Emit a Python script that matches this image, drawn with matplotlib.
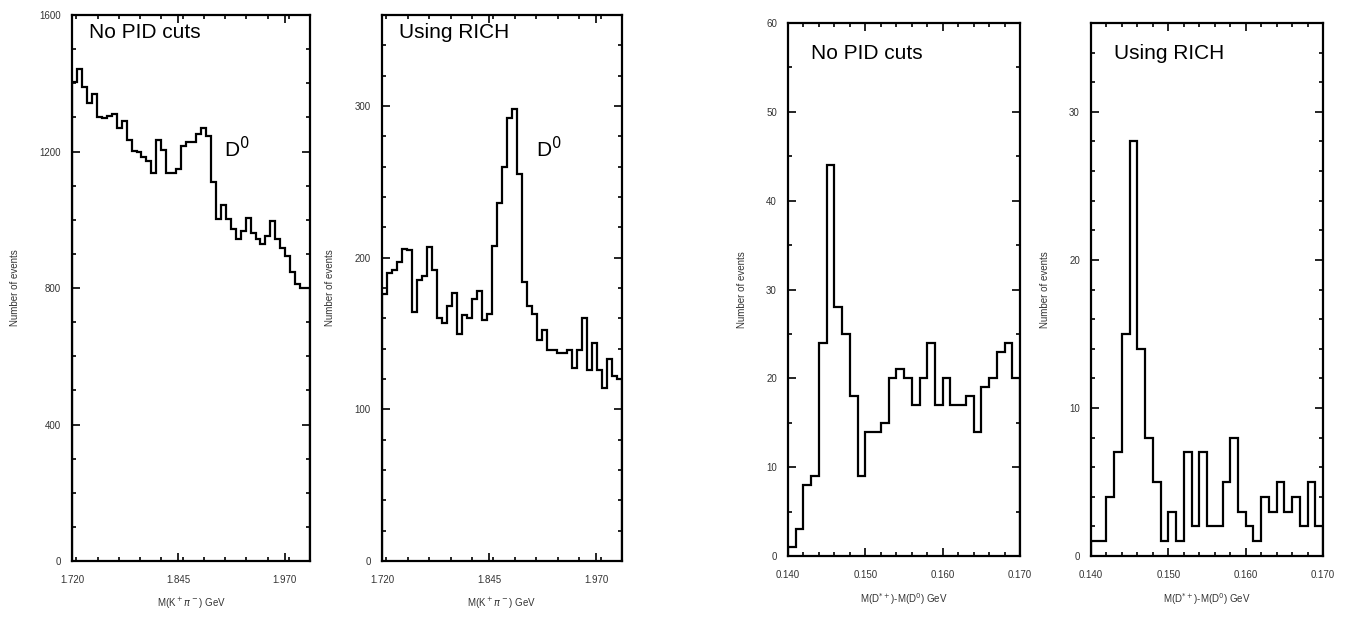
import numpy as np
import matplotlib
matplotlib.use("Agg")
import matplotlib.pyplot as plt
from matplotlib.ticker import MultipleLocator, FixedLocator

plt.rcParams['font.family'] = ['Liberation Sans', 'DejaVu Sans']

# K pi invariant mass, 48 bins between 1.72 and 2.00 GeV
kpi_range = (1.72, 2.00)
kpi_nopid = [1403, 1443, 1389, 1343, 1368, 1302, 1299, 1305, 1310, 1270, 1289, 1235,
             1203, 1200, 1183, 1171, 1136, 1235, 1205, 1136, 1136, 1148, 1217, 1229,
             1227, 1252, 1270, 1246, 1111, 1003, 1043, 1003, 974, 945, 967, 1005,
             962, 945, 928, 951, 997, 945, 916, 893, 847, 812, 800, 800]
kpi_rich = [176, 190, 192, 197, 206, 205, 164, 185, 188, 207, 192, 160,
            157, 168, 177, 150, 162, 160, 173, 178, 159, 163, 208, 236,
            260, 292, 298, 255, 184, 168, 163, 146, 152, 139, 139, 137,
            137, 139, 127, 139, 160, 126, 144, 126, 114, 133, 122, 120]
kpi_ticks = [1.720, 1.845, 1.970]

# D* - D0 mass difference, 30 bins between 0.140 and 0.170 GeV
dm_range = (0.140, 0.170)
dm_nopid = [1, 3, 8, 9, 24, 44, 28, 25, 18, 9, 14, 14, 15, 20, 21,
            20, 17, 20, 24, 17, 20, 17, 17, 18, 14, 19, 20, 23, 24, 20]
dm_rich = [1, 1, 4, 7, 15, 28, 14, 8, 5, 1, 3, 1, 7, 2, 7,
           2, 2, 5, 8, 3, 2, 1, 4, 3, 5, 3, 4, 2, 5, 2]
dm_ticks = [0.140, 0.150, 0.160, 0.170]

fig = plt.figure(figsize=(13.57, 6.19), dpi=100)

panels = [
    # rect, values, xrange, xticks, xminor, ymax, ymajor, yminor, title, xlabel, D0 label
    ([0.0531, 0.0937, 0.1754, 0.882], kpi_nopid, kpi_range, kpi_ticks, 0.025, 1600, 400, 100,
     'No PID cuts', r'M(K$^+$$\pi^-$) GeV', True),
    ([0.2815, 0.0937, 0.1769, 0.882], kpi_rich, kpi_range, kpi_ticks, 0.025, 360, 100, 20,
     'Using RICH', r'M(K$^+$$\pi^-$) GeV', True),
    ([0.5807, 0.1018, 0.1710, 0.861], dm_nopid, dm_range, dm_ticks, 0.002, 60, 10, 5,
     'No PID cuts', r'M(D$^{*+}$)-M(D$^0$) GeV', False),
    ([0.8040, 0.1018, 0.1710, 0.861], dm_rich, dm_range, dm_ticks, 0.002, 36, 10, 2,
     'Using RICH', r'M(D$^{*+}$)-M(D$^0$) GeV', False),
]

for rect, vals, xr, xt, xminor, ymax, ymaj, ymin, title, xlab, d0 in panels:
    ax = fig.add_axes(rect)
    edges = np.linspace(xr[0], xr[1], len(vals) + 1)
    ax.stairs(vals, edges, color='black', lw=1.6)
    ax.set_xlim(xr)
    ax.set_ylim(0, ymax)
    ax.xaxis.set_major_locator(FixedLocator(xt))
    ax.xaxis.set_minor_locator(MultipleLocator(xminor))
    ax.yaxis.set_major_locator(MultipleLocator(ymaj))
    ax.yaxis.set_minor_locator(MultipleLocator(ymin))
    ax.set_xticklabels(['%.3f' % t for t in xt])
    ax.tick_params(which='both', direction='in', top=True, right=True,
                   labelsize=7, labelcolor='#333333', width=1.2)
    ax.tick_params(which='major', length=6)
    ax.tick_params(which='minor', length=3)
    ax.tick_params(axis='x', pad=10)
    ax.tick_params(axis='y', pad=8)
    for s in ax.spines.values():
        s.set_linewidth(1.6)
    ax.set_ylabel('Number of events', fontsize=7, color='#333333', labelpad=14)
    ax.set_xlabel(xlab, fontsize=7, color='#333333', labelpad=8)
    if d0:
        ax.text(0.07, 0.985, title, transform=ax.transAxes, fontsize=15, va='top', ha='left')
        ax.text(0.64, 0.74, r'D$^0$', transform=ax.transAxes, fontsize=15, ha='left')
    else:
        ax.text(0.10, 0.96, title, transform=ax.transAxes, fontsize=15, va='top', ha='left')

fig.savefig('out.png', dpi=100)
